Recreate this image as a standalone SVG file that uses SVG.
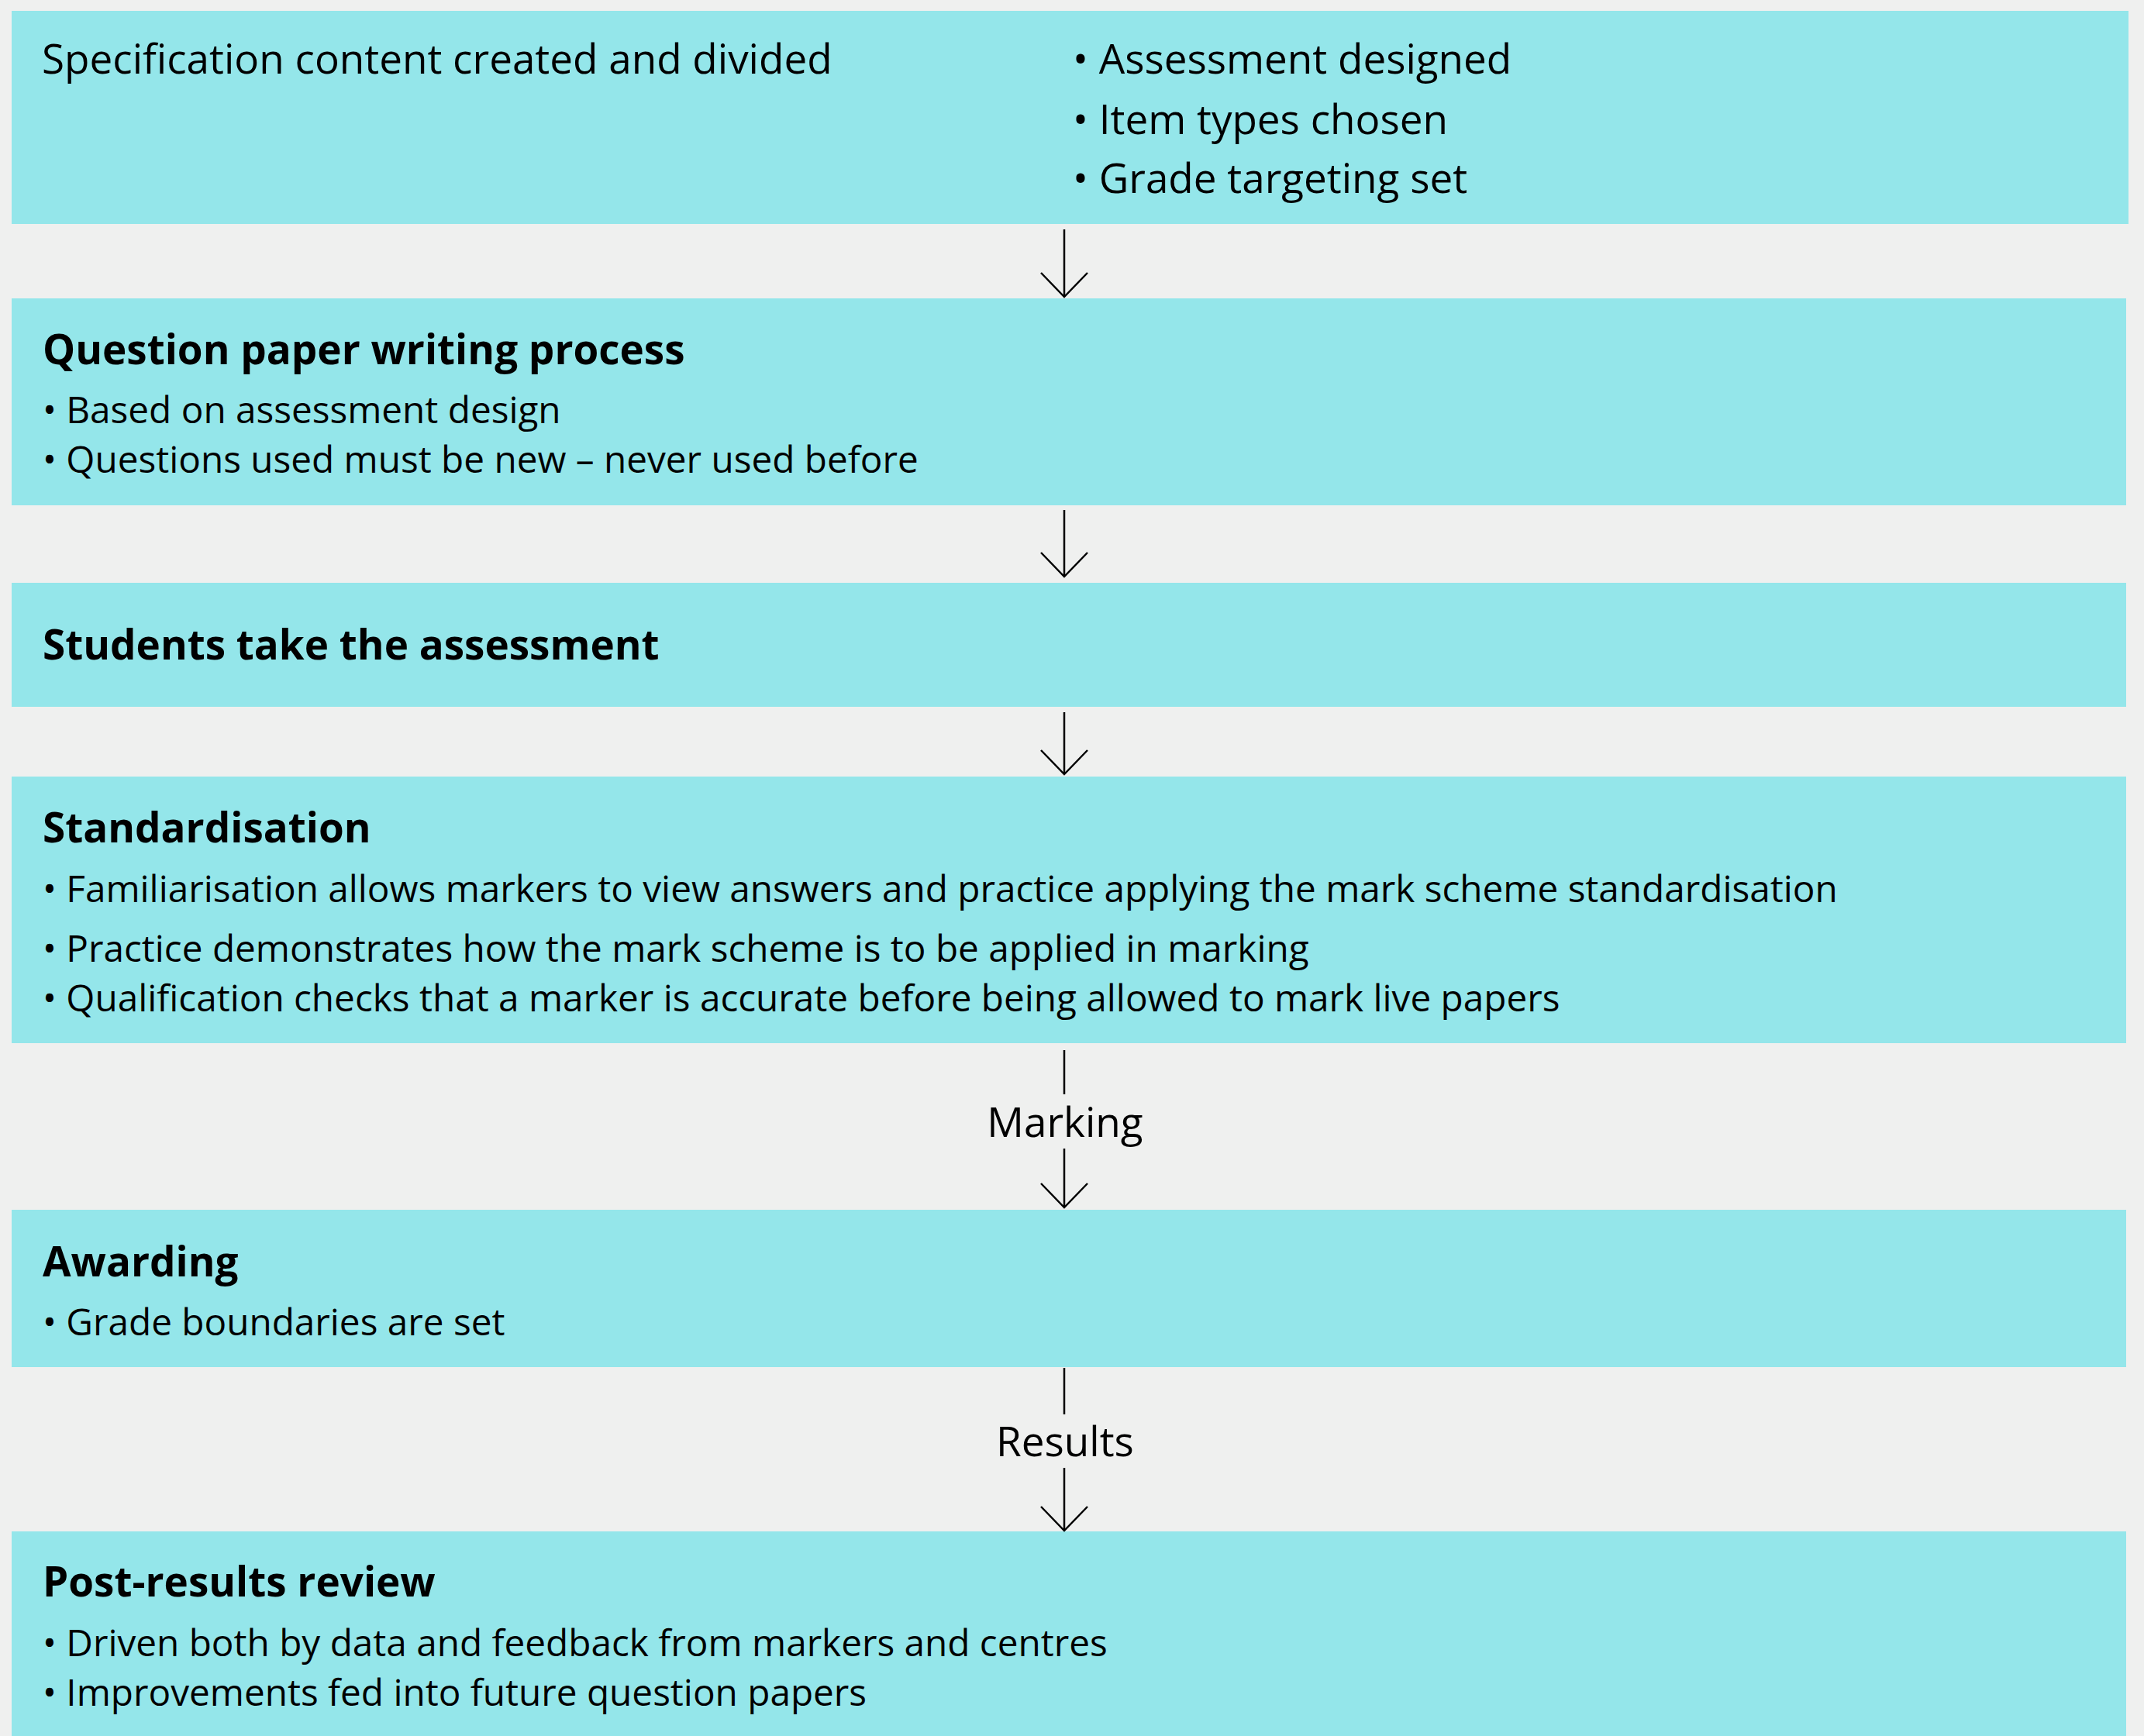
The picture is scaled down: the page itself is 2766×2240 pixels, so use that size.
<svg xmlns="http://www.w3.org/2000/svg" width="2766" height="2240" viewBox="0 0 2766 2240">
<style>
.bg{fill:#EFF0EF}
.box{fill:#94E6EA}
text{font-family:"Open Sans","Noto Sans","Liberation Sans",sans-serif;fill:#000}
.big{font-size:53px}
.title{font-size:53px;font-weight:bold}
.body{font-size:47.7px}
.lbl{font-size:53px;text-anchor:middle}
.conn line,.conn polyline{stroke:#000;stroke-width:2.5;fill:none}
</style>
<rect class="bg" x="0" y="0" width="2766" height="2240"/>
<g id="node-spec">
<rect class="box" x="15" y="14" width="2731" height="275"/>
<text class="big" x="54" y="95">Specification content created and divided</text>
<text class="big" x="1384" y="95">• Assessment designed</text>
<text class="big" x="1384" y="173">• Item types chosen</text>
<text class="big" x="1384" y="249">• Grade targeting set</text>
</g>
<g id="node-qp">
<rect class="box" x="15" y="385" width="2728" height="267"/>
<text class="title" x="55" y="470">Question paper writing process</text>
<text class="body" x="55" y="546">• Based on assessment design</text>
<text class="body" x="55" y="610">• Questions used must be new – never used before</text>
</g>
<g id="node-students">
<rect class="box" x="15" y="752" width="2728" height="160"/>
<text class="title" x="55" y="851">Students take the assessment</text>
</g>
<g id="node-std">
<rect class="box" x="15" y="1002" width="2728" height="344"/>
<text class="title" x="55" y="1087">Standardisation</text>
<text class="body" x="55" y="1164">• Familiarisation allows markers to view answers and practice applying the mark scheme standardisation</text>
<text class="body" x="55" y="1241">• Practice demonstrates how the mark scheme is to be applied in marking</text>
<text class="body" x="55" y="1305">• Qualification checks that a marker is accurate before being allowed to mark live papers</text>
</g>
<g id="node-awarding">
<rect class="box" x="15" y="1561" width="2728" height="203"/>
<text class="title" x="55" y="1647">Awarding</text>
<text class="body" x="55" y="1723">• Grade boundaries are set</text>
</g>
<g id="node-review">
<rect class="box" x="15" y="1976" width="2728" height="280"/>
<text class="title" x="55" y="2060">Post-results review</text>
<text class="body" x="55" y="2137">• Driven both by data and feedback from markers and centres</text>
<text class="body" x="55" y="2201">• Improvements fed into future question papers</text>
</g>
<g id="connectors" class="conn">
<line x1="1373" y1="296" x2="1373" y2="383"/>
<polyline points="1343,352 1373,383 1403,352"/>
<line x1="1373" y1="658" x2="1373" y2="744"/>
<polyline points="1343,713 1373,744 1403,713"/>
<line x1="1373" y1="919" x2="1373" y2="999"/>
<polyline points="1343,968 1373,999 1403,968"/>
<line x1="1373" y1="1355" x2="1373" y2="1412"/>
<line x1="1373" y1="1482" x2="1373" y2="1558"/>
<polyline points="1343,1527 1373,1558 1403,1527"/>
<line x1="1373" y1="1765" x2="1373" y2="1825"/>
<line x1="1373" y1="1894" x2="1373" y2="1975"/>
<polyline points="1343,1944 1373,1975 1403,1944"/>
<text class="lbl" x="1374" y="1467">Marking</text>
<text class="lbl" x="1374" y="1879">Results</text>
</g>
</svg>
